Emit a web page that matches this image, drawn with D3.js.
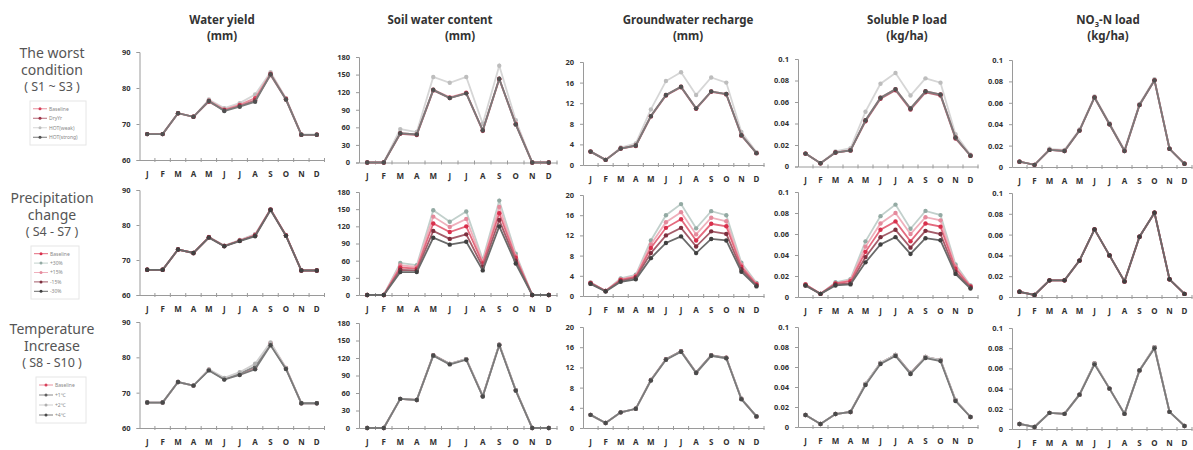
<!DOCTYPE html>
<html>
<head>
<meta charset="utf-8">
<script src="https://cdn.jsdelivr.net/npm/d3@7"></script>
<style>
  body { margin: 0; background: #fff; }
  svg { display: block; font-family: "Noto Sans", "DejaVu Sans", sans-serif; }
</style>
</head>
<body>
<svg id="chart" width="1193" height="450"></svg>
<script>
// month labels
var months = ["J", "F", "M", "A", "M", "J", "J", "A", "S", "O", "N", "D"];

// column headers
var colTitles = [["Water yield", "(mm)"], ["Soil water content", "(mm)"], ["Groundwater recharge", "(mm)"], ["Soluble P load", "(kg/ha)"], ["NO3-N load", "(kg/ha)"]];
var rowTitles = [["The worst", "condition", "( S1 ~ S3 )"], ["Precipitation", "change", "( S4 - S7 )"], ["Temperature", "Increase", "( S8 - S10 )"]];

// y axis ticks per column
var yTicks = [[60, 70, 80, 90], [0, 30, 60, 90, 120, 150, 180], [0, 4, 8, 12, 16, 20], [0, 0.02, 0.04, 0.06, 0.08, 0.1], [0, 0.02, 0.04, 0.06, 0.08, 0.1]];

// series names
var worstNames = ["Baseline", "DryYr", "HOT(weak)", "HOT(strong)"];
var precipNames = ["Baseline", "+30%", "+15%", "-15%", "-30%"];
var tempNames = ["Baseline", "+1\u2103", "+2\u2103", "+4\u2103"];

// ---- row 1 : the worst condition (Baseline, DryYr, HOT weak, HOT strong)
var wyWorst = [
  [67.2, 67.2, 73, 72, 76.5, 74, 75.3, 77.2, 84, 77, 67, 67],
  [67.2, 67.2, 73, 72, 76.2, 73.8, 75, 76.6, 83.6, 76.8, 67, 67],
  [67.2, 67.2, 73, 72, 76.8, 74.4, 75.8, 78.2, 84.4, 77.2, 67.1, 67.1],
  [67.2, 67.2, 73, 72, 76.4, 73.6, 74.8, 76.2, 83.8, 76.8, 67, 67]
];
var swWorst = [
  [0, 0, 50, 48, 124, 111, 119, 55, 143, 66, 0, 0],
  [0, 0, 49, 47, 123, 110, 118, 54, 142, 65, 0, 0],
  [0, 0, 57, 52, 146, 136, 146, 66, 165, 72, 0, 0],
  [0, 0, 50, 48, 124, 110, 118, 55, 143, 65, 0, 0]
];
var gwWorst = [
  [2.6, 1, 3.2, 3.8, 9.5, 13.6, 15.2, 11, 14.3, 13.8, 5.8, 2.3],
  [2.6, 1, 3.2, 3.7, 9.4, 13.5, 15.1, 10.9, 14.2, 13.7, 5.7, 2.3],
  [2.7, 1, 3.4, 4.2, 10.8, 16.3, 18, 13.6, 17, 16, 6.4, 2.5],
  [2.6, 1, 3.2, 3.8, 9.5, 13.6, 15.2, 11, 14.3, 13.8, 5.8, 2.3]
];
var spWorst = [
  [0.012, 0.003, 0.013, 0.015, 0.043, 0.064, 0.072, 0.054, 0.070, 0.067, 0.027, 0.010],
  [0.012, 0.003, 0.013, 0.015, 0.042, 0.063, 0.071, 0.053, 0.069, 0.066, 0.026, 0.010],
  [0.012, 0.003, 0.014, 0.017, 0.051, 0.077, 0.087, 0.066, 0.082, 0.078, 0.030, 0.011],
  [0.012, 0.003, 0.013, 0.015, 0.043, 0.064, 0.072, 0.054, 0.070, 0.067, 0.027, 0.010]
];
var noWorst = [
  [0.005, 0.002, 0.016, 0.015, 0.034, 0.065, 0.040, 0.015, 0.058, 0.081, 0.017, 0.003],
  [0.005, 0.002, 0.016, 0.015, 0.034, 0.065, 0.040, 0.015, 0.058, 0.081, 0.017, 0.003],
  [0.005, 0.002, 0.017, 0.016, 0.035, 0.066, 0.041, 0.016, 0.059, 0.082, 0.017, 0.003],
  [0.005, 0.002, 0.016, 0.015, 0.034, 0.065, 0.040, 0.015, 0.058, 0.081, 0.017, 0.003]
];

// ---- row 2 : precipitation change (Baseline, +30, +15, -15, -30)
var wyPrecip = [
  [67.2, 67.2, 73, 72, 76.5, 74, 75.5, 77, 84.4, 77, 67, 67],
  [67.2, 67.2, 73, 72, 76.6, 74.1, 75.7, 77.4, 84.5, 77, 67, 67],
  [67.2, 67.2, 73, 72, 76.5, 74, 75.6, 77.2, 84.4, 77, 67, 67],
  [67.2, 67.2, 73, 72, 76.5, 74, 75.5, 77, 84.4, 77, 67, 67],
  [67.2, 67.2, 73, 72, 76.4, 73.9, 75.4, 76.8, 84.3, 76.9, 67, 67]
];
var swPrecip = [
  [0, 0, 48, 46, 125, 110, 120, 55, 143, 65, 0, 0],
  [0, 0, 56, 52, 148, 128, 146, 62, 165, 72, 0, 0],
  [0, 0, 52, 49, 137, 119, 133, 58, 154, 68, 0, 0],
  [0, 0, 44, 43, 112, 98, 106, 49, 131, 60, 0, 0],
  [0, 0, 40, 40, 100, 88, 93, 43, 120, 55, 0, 0]
];
var gwPrecip = [
  [2.6, 1, 3.2, 3.8, 9.5, 13.5, 15.2, 11, 14.3, 13.8, 5.8, 2.3],
  [2.7, 1, 3.5, 4.2, 11, 16, 18.2, 13.4, 16.8, 16, 6.6, 2.6],
  [2.6, 1, 3.3, 4, 10.2, 14.6, 16.6, 12.2, 15.5, 14.8, 6.2, 2.4],
  [2.5, 1, 3, 3.6, 8.5, 12, 13.5, 9.8, 12.8, 12.3, 5.3, 2.1],
  [2.4, 0.9, 2.8, 3.3, 7.5, 10.5, 11.8, 8.5, 11.3, 11, 4.8, 1.9]
];
var spPrecip = [
  [0.012, 0.003, 0.013, 0.015, 0.043, 0.064, 0.072, 0.053, 0.070, 0.067, 0.027, 0.010],
  [0.012, 0.003, 0.014, 0.017, 0.053, 0.077, 0.088, 0.065, 0.082, 0.078, 0.031, 0.011],
  [0.012, 0.003, 0.013, 0.016, 0.048, 0.070, 0.080, 0.060, 0.076, 0.073, 0.029, 0.010],
  [0.011, 0.003, 0.012, 0.013, 0.038, 0.057, 0.064, 0.047, 0.063, 0.060, 0.024, 0.009],
  [0.011, 0.003, 0.011, 0.012, 0.033, 0.050, 0.057, 0.041, 0.056, 0.054, 0.022, 0.008]
];
var noPrecip = [
  [0.005, 0.002, 0.016, 0.016, 0.035, 0.065, 0.040, 0.015, 0.058, 0.081, 0.017, 0.003],
  [0.005, 0.002, 0.016, 0.016, 0.035, 0.065, 0.040, 0.015, 0.058, 0.081, 0.017, 0.003],
  [0.005, 0.002, 0.016, 0.016, 0.035, 0.065, 0.040, 0.015, 0.058, 0.081, 0.017, 0.003],
  [0.005, 0.002, 0.016, 0.016, 0.035, 0.065, 0.040, 0.015, 0.058, 0.081, 0.017, 0.003],
  [0.005, 0.002, 0.016, 0.016, 0.035, 0.065, 0.040, 0.015, 0.058, 0.081, 0.017, 0.003]
];

// ---- row 3 : temperature increase (Baseline, +1, +2, +4)
var wyTemp = [
  [67.2, 67.2, 73, 72, 76.5, 74, 75.2, 77, 84, 77, 67, 67],
  [67.2, 67.2, 73, 72, 76.4, 73.8, 75.4, 77.4, 83.6, 76.8, 67, 67],
  [67.2, 67.2, 73, 72, 76.6, 74.2, 75.8, 78.2, 84.2, 77, 67, 67],
  [67.2, 67.2, 73, 72, 76.3, 73.7, 75, 76.6, 83.4, 76.7, 67, 67]
];
var swTemp = [
  [0, 0, 50, 48, 125, 110, 118, 55, 143, 65, 0, 0],
  [0, 0, 50, 48, 125, 110, 118, 55, 143, 65, 0, 0],
  [0, 0, 50, 48, 124, 110, 118, 54, 143, 65, 0, 0],
  [0, 0, 50, 48, 124, 109, 117, 54, 142, 64, 0, 0]
];
var gwTemp = [
  [2.6, 1, 3.1, 3.8, 9.5, 13.6, 15.2, 11, 14.4, 13.9, 5.8, 2.3],
  [2.6, 1, 3.1, 3.8, 9.5, 13.6, 15.2, 11, 14.4, 13.9, 5.8, 2.3],
  [2.6, 1, 3.1, 3.8, 9.4, 13.5, 15.1, 10.9, 14.3, 13.8, 5.8, 2.3],
  [2.6, 1, 3.1, 3.8, 9.4, 13.5, 15.1, 10.9, 14.3, 13.8, 5.7, 2.3]
];
var spTemp = [
  [0.012, 0.003, 0.013, 0.015, 0.043, 0.064, 0.072, 0.054, 0.070, 0.067, 0.027, 0.010],
  [0.012, 0.003, 0.013, 0.015, 0.043, 0.064, 0.072, 0.054, 0.070, 0.067, 0.027, 0.010],
  [0.012, 0.003, 0.013, 0.015, 0.043, 0.064, 0.072, 0.053, 0.070, 0.067, 0.027, 0.010],
  [0.012, 0.003, 0.013, 0.015, 0.042, 0.063, 0.071, 0.053, 0.069, 0.066, 0.026, 0.010]
];
var noTemp = [
  [0.005, 0.002, 0.016, 0.015, 0.034, 0.065, 0.040, 0.015, 0.058, 0.081, 0.017, 0.003],
  [0.005, 0.002, 0.016, 0.015, 0.034, 0.065, 0.040, 0.015, 0.058, 0.081, 0.017, 0.003],
  [0.005, 0.002, 0.016, 0.015, 0.034, 0.065, 0.040, 0.015, 0.058, 0.081, 0.017, 0.003],
  [0.005, 0.002, 0.016, 0.015, 0.034, 0.064, 0.040, 0.015, 0.058, 0.080, 0.017, 0.003]
];

var rows = [
  { names: worstNames, panels: [wyWorst, swWorst, gwWorst, spWorst, noWorst] },
  { names: precipNames, panels: [wyPrecip, swPrecip, gwPrecip, spPrecip, noPrecip] },
  { names: tempNames, panels: [wyTemp, swTemp, gwTemp, spTemp, noTemp] }
];

// styles per row, per series
var rowStyles = [
  [{ line: "#e8909e", dot: "#d9405a", order: 1 }, { line: "#b86a78", dot: "#9c3347", order: 2 }, { line: "#d6d6d6", dot: "#bdbdbd", order: 0 }, { line: "#7a7a7a", dot: "#505050", order: 3 }],
  [{ line: "#e46a7e", dot: "#d8304c", order: 2 }, { line: "#c2d0cc", dot: "#93aaa3", order: 0 }, { line: "#efb0bc", dot: "#e58a9c", order: 1 }, { line: "#a45d6a", dot: "#7d2f3e", order: 3 }, { line: "#6a6a6a", dot: "#404040", order: 4 }],
  [{ line: "#e8909e", dot: "#d9405a", order: 0 }, { line: "#8a8a8a", dot: "#606060", order: 1 }, { line: "#cfcfcf", dot: "#b0b0b0", order: 2 }, { line: "#7a7a7a", dot: "#4a4a4a", order: 3 }]
];

// panel geometry
var colX = [139.5, 359, 583, 798, 1012];
var colW = [185, 198, 181, 180, 180];
var rowTop = [[52, 57, 62, 59, 60], [190, 192, 195, 192, 193], [322, 323, 327, 327, 328]];
var rowBot = [[160, 162.5, 165, 166.5, 167], [295, 295, 296, 297, 297], [428, 428, 428, 427, 429]];
var titleX = [222, 440, 688, 907, 1108];

var svg = d3.select("#chart");

// column titles
colTitles.forEach(function(t, c) {
  var g = svg.append("text")
    .attr("x", titleX[c]).attr("y", 24)
    .attr("text-anchor", "middle")
    .attr("font-size", 11.5).attr("font-weight", "bold").attr("fill", "#333");
  if (c == 4) {
    g.append("tspan").text("NO");
    g.append("tspan").attr("font-size", 7.5).attr("dy", 3).text("3");
    g.append("tspan").attr("dy", -3).text("-N load");
  } else {
    g.text(t[0]);
  }
  svg.append("text")
    .attr("x", c == 1 ? titleX[c] + 20 : titleX[c]).attr("y", 40)
    .attr("text-anchor", "middle")
    .attr("font-size", 11.5).attr("font-weight", "bold").attr("fill", "#333")
    .text(t[1]);
});

// row titles
var rowTitleY = [[58, 75, 91], [203, 220, 236], [334, 351, 367]];
rowTitles.forEach(function(t, r) {
  t.forEach(function(s, i) {
    svg.append("text")
      .attr("x", 52).attr("y", rowTitleY[r][i])
      .attr("text-anchor", "middle")
      .attr("font-size", i == 2 ? 12.5 : 14).attr("fill", "#555")
      .text(s);
  });
});

var fmt = function(d) { return d == 0 ? "0" : String(+d.toFixed(2)); };

rows.forEach(function(row, r) {
  row.panels.forEach(function(series, c) {
    var x = d3.scaleBand().domain(d3.range(12)).range([colX[c], colX[c] + colW[c]]);
    var yd = yTicks[c];
    var y = d3.scaleLinear().domain([yd[0], yd[yd.length - 1]]).range([rowBot[r][c], rowTop[r][c]]);

    // y axis
    var ya = svg.append("g")
      .attr("transform", "translate(" + colX[c] + ",0)")
      .call(d3.axisLeft(y).tickValues(yd).tickSize(3).tickPadding(6).tickFormat(fmt));
    ya.select(".domain").attr("stroke", "#9a9a9a");
    ya.selectAll(".tick line").attr("stroke", "#9a9a9a");
    ya.selectAll("text").attr("font-size", 7.5).attr("font-weight", "bold").attr("fill", "#333")
      .attr("font-family", "Noto Sans, DejaVu Sans, sans-serif");

    // x axis: ticks at category boundaries, labels at centres
    var xa = svg.append("g")
      .attr("transform", "translate(0," + rowBot[r][c] + ")")
      .call(d3.axisBottom(x).tickSize(0).tickPadding(11).tickFormat(function(i) { return months[i]; }));
    xa.select(".domain").attr("stroke", "#9a9a9a");
    xa.selectAll("text").attr("font-size", 8).attr("font-weight", "bold").attr("fill", "#333")
      .attr("font-family", "Noto Sans, DejaVu Sans, sans-serif");
    xa.selectAll(".bound").data(d3.range(1, 13)).join("line")
      .attr("x1", function(i) { return x(i - 1) + x.bandwidth(); })
      .attr("x2", function(i) { return x(i - 1) + x.bandwidth(); })
      .attr("y1", -2).attr("y2", 2).attr("stroke", "#9a9a9a");

    var line = d3.line()
      .x(function(d, i) { return x(i) + x.bandwidth() / 2; })
      .y(function(d) { return y(d); });

    var idx = d3.range(series.length).sort(function(a, b) { return rowStyles[r][a].order - rowStyles[r][b].order; });
    idx.forEach(function(s) {
      var st = rowStyles[r][s];
      svg.append("path").datum(series[s])
        .attr("d", line).attr("fill", "none")
        .attr("stroke", st.line).attr("stroke-width", 1.8);
      svg.append("g").selectAll("circle").data(series[s]).join("circle")
        .attr("cx", function(d, i) { return x(i) + x.bandwidth() / 2; })
        .attr("cy", function(d) { return y(d); })
        .attr("r", 2.2).attr("fill", st.dot);
    });
  });
});

// legends
var legendBox = [{ x: 30, y: 101, w: 56, h: 44 }, { x: 31, y: 246, w: 48, h: 53 }, { x: 36, y: 377, w: 50, h: 46 }];
rows.forEach(function(row, r) {
  var b = legendBox[r];
  svg.append("rect").attr("x", b.x).attr("y", b.y).attr("width", b.w).attr("height", b.h)
    .attr("fill", "none").attr("stroke", "#e6e6e6");
  var step = (b.h - 6) / row.names.length;
  row.names.forEach(function(n, i) {
    var st = rowStyles[r][i];
    var ly = b.y + 3 + step * (i + 0.5);
    svg.append("line").attr("x1", b.x + 3).attr("x2", b.x + 17).attr("y1", ly).attr("y2", ly)
      .attr("stroke", st.line).attr("stroke-width", 1);
    svg.append("circle").attr("cx", b.x + 10).attr("cy", ly).attr("r", 1.5).attr("fill", st.dot);
    svg.append("text").attr("x", b.x + 19).attr("y", ly + 1.8)
      .attr("font-size", 5).attr("fill", "#888").text(n);
  });
});
</script>
</body>
</html>
